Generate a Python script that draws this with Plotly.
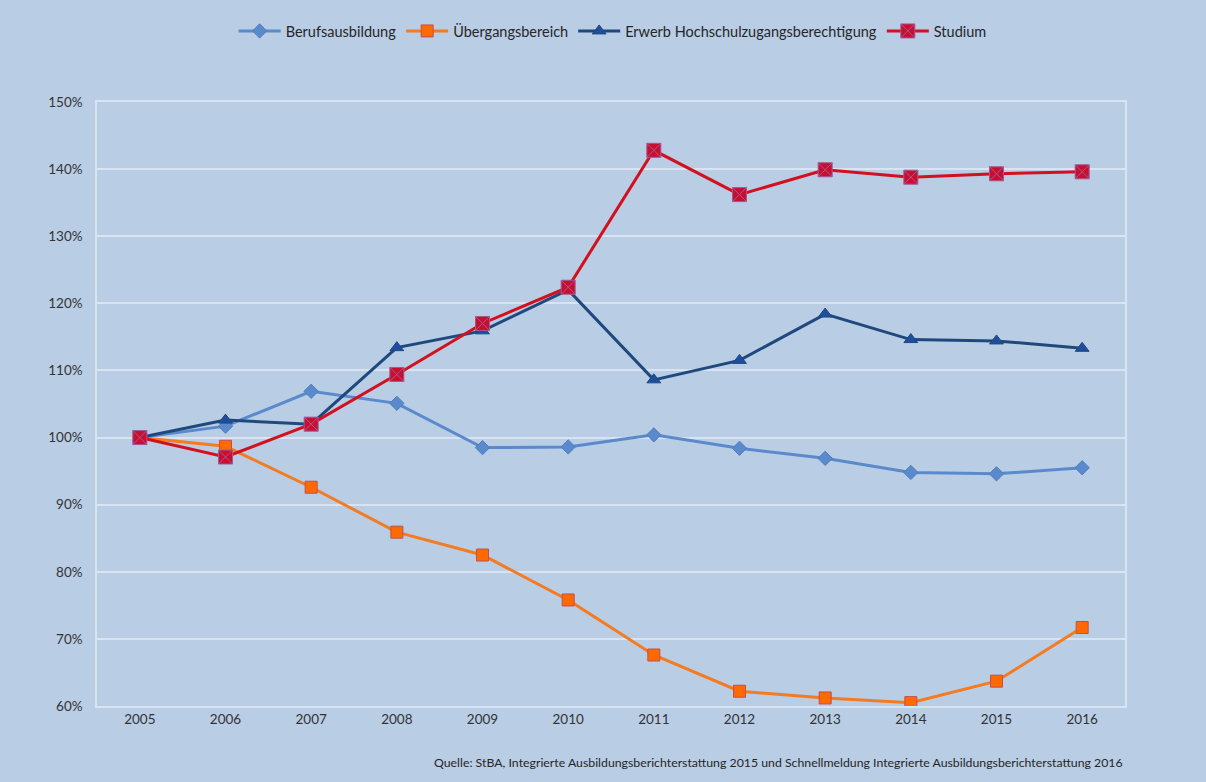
import plotly.graph_objects as go

years = ["2005", "2006", "2007", "2008", "2009", "2010", "2011", "2012", "2013", "2014", "2015", "2016"]
berufsausbildung = [100.0, 101.7, 106.9, 105.1, 98.5, 98.6, 100.4, 98.4, 96.9, 94.8, 94.6, 95.5]
uebergangsbereich = [100.0, 98.7, 92.6, 85.9, 82.5, 75.8, 67.6, 62.2, 61.2, 60.5, 63.7, 71.7]
erwerb_hzb = [100.0, 102.6, 102.0, 113.4, 115.9, 122.0, 108.6, 111.5, 118.4, 114.6, 114.4, 113.3]
studium = [100.0, 97.1, 102.0, 109.4, 117.0, 122.4, 142.8, 136.2, 139.9, 138.8, 139.3, 139.6]

names = ["Berufsausbildung", "Übergangsbereich", "Erwerb Hochschulzugangsberechtigung", "Studium"]
source_text = "Quelle: StBA, Integrierte Ausbildungsberichterstattung 2015 und Schnellmeldung Integrierte Ausbildungsberichterstattung 2016"

bg = "#B9CDE5"
grid = "#D8E4F1"
font_family = "Lato, 'Open Sans', sans-serif"

fig = go.Figure()
fig.add_trace(go.Scatter(
    x=years, y=berufsausbildung, name=names[0], mode="lines+markers",
    line=dict(color="#5A8ACB", width=3),
    marker=dict(symbol="diamond", size=11, color="#5A8ACB", line=dict(color="#4F7FBF", width=1)),
))
fig.add_trace(go.Scatter(
    x=years, y=uebergangsbereich, name=names[1], mode="lines+markers",
    line=dict(color="#F47B20", width=3),
    marker=dict(symbol="square", size=12, color="#FF6A00", line=dict(color="#C0504D", width=1)),
))
fig.add_trace(go.Scatter(
    x=years, y=erwerb_hzb, name=names[2], mode="lines+markers",
    line=dict(color="#1F497D", width=3),
    marker=dict(symbol="triangle-up", size=12, color="#1F4E9E", line=dict(color="#1F497D", width=1)),
))
fig.add_trace(go.Scatter(
    x=years, y=studium, name=names[3], mode="lines+markers",
    line=dict(color="#D2101E", width=3),
    marker=dict(symbol="square-x", size=14, color="#C8102E", line=dict(color="#A0589A", width=1)),
))

fig.add_annotation(
    text=source_text, xref="paper", yref="paper", x=1.0, y=-0.093,
    xanchor="right", yanchor="middle", showarrow=False,
    font=dict(size=12.3, color="#262626", family=font_family),
)

fig.update_layout(
    width=1206, height=782,
    paper_bgcolor=bg, plot_bgcolor=bg,
    margin=dict(l=97, r=81, t=102, b=76),
    font=dict(family=font_family, color="#333333", size=13),
    showlegend=True,
    legend=dict(
        orientation="h", x=0.508, xanchor="center", xref="container",
        y=1 - 31 / 782, yanchor="middle", yref="container",
        bgcolor="rgba(0,0,0,0)", font=dict(size=14.5, color="#262626"),
        itemwidth=42,
    ),
    xaxis=dict(
        type="category", range=[-0.5, 11.5], showgrid=False,
        showline=True, linecolor=grid, linewidth=1.5, mirror=True,
        tickfont=dict(size=13.5, color="#333333"), zeroline=False,
    ),
    yaxis=dict(
        range=[60, 150], dtick=10, tick0=60, ticksuffix="%",
        showgrid=True, gridcolor=grid, gridwidth=1.5,
        showline=True, linecolor=grid, linewidth=1.5, mirror=True,
        tickfont=dict(size=13.5, color="#333333"), zeroline=False,
        ticklabelstandoff=10,
    ),
)

fig.write_html(
    "out.html",
    config={"displayModeBar": False},
    post_script="document.body.style.margin='0';document.body.style.padding='0';window.dispatchEvent(new Event('resize'));",
)
